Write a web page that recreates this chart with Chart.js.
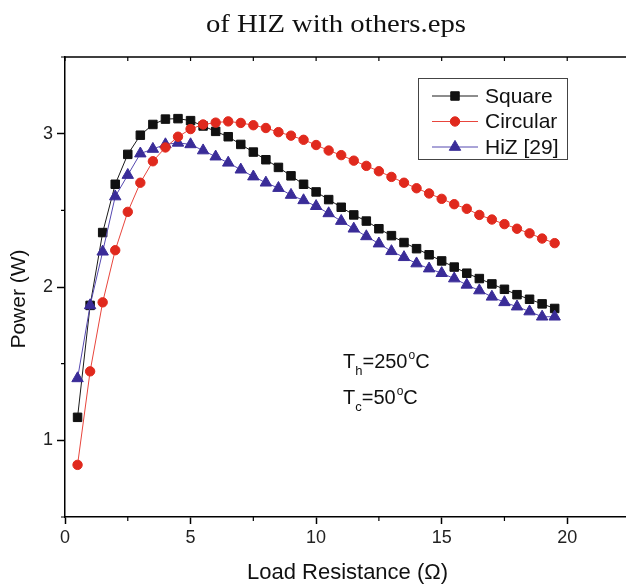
<!DOCTYPE html>
<html>
<head>
<meta charset="utf-8">
<script src="https://cdn.jsdelivr.net/npm/chart.js@4.4.1/dist/chart.umd.min.js"></script>
<style>
html,body{margin:0;padding:0;background:#fff;overflow:hidden;width:626px;height:586px;}
canvas{display:block;}
</style>
</head>
<body>
<canvas id="c" width="640" height="586"></canvas>
<script>
const chartTitle = 'of HIZ with others.eps';
const xTitle = 'Load Resistance (\u03A9)';
const yTitle = 'Power (W)';
const seriesNames = ['Square', 'Circular', 'HiZ [29]'];
const xValues = [0.5,1,1.5,2,2.5,3,3.5,4,4.5,5,5.5,6,6.5,7,7.5,8,8.5,9,9.5,10,10.5,11,11.5,12,12.5,13,13.5,14,14.5,15,15.5,16,16.5,17,17.5,18,18.5,19,19.5];
const squareValues = [1.15,1.88,2.355,2.67,2.865,2.99,3.06,3.095,3.098,3.085,3.05,3.015,2.98,2.93,2.88,2.83,2.78,2.725,2.67,2.62,2.57,2.52,2.47,2.43,2.38,2.335,2.29,2.25,2.21,2.17,2.13,2.09,2.055,2.02,1.985,1.95,1.92,1.89,1.86];
const circularValues = [0.84,1.45,1.90,2.24,2.49,2.68,2.82,2.91,2.98,3.03,3.06,3.072,3.08,3.07,3.055,3.037,3.01,2.987,2.96,2.926,2.89,2.86,2.824,2.79,2.755,2.718,2.68,2.644,2.61,2.575,2.54,2.51,2.47,2.44,2.41,2.38,2.35,2.316,2.286];
const hizValues = [1.404,1.88,2.23,2.59,2.73,2.87,2.90,2.93,2.94,2.93,2.89,2.85,2.81,2.765,2.72,2.68,2.645,2.60,2.565,2.527,2.48,2.43,2.38,2.33,2.283,2.233,2.194,2.153,2.12,2.09,2.055,2.014,1.977,1.936,1.90,1.872,1.84,1.806,1.806];
const xMajorTicks = [0,5,10,15,20];
const xMinorTicks = [2.5,7.5,12.5,17.5,22.5];
const yMajorTicks = [1,2,3];
const yMinorTicks = [0.5,1.5,2.5,3.5];
const xRange = [0, 22.5];
const yRange = [0.5, 3.5];

function pts(ys){ return xValues.map((x,i)=>({x:x, y:ys[i]})); }

const SANS = '"Liberation Sans", Arial, sans-serif';

const datasets = [
  {label: seriesNames[0], data: pts(squareValues), borderColor:'#1a1a1a', backgroundColor:'#111111',
   pointBackgroundColor:'#111111', pointBorderColor:'#111111', pointStyle:'rect', pointRadius:6, order:2},
  {label: seriesNames[1], data: pts(circularValues), borderColor:'#e8453c', backgroundColor:'#e0291d',
   pointBackgroundColor:'#e0291d', pointBorderColor:'#e0291d', pointStyle:'circle', pointRadius:4.7, order:0},
  {label: seriesNames[2], data: pts(hizValues), borderColor:'#5548b0', backgroundColor:'#3a2c98',
   pointBackgroundColor:'#3a2c98', pointBorderColor:'#3a2c98', pointStyle:'triangle', pointRadius:6.6, order:1}
];
datasets.forEach(d=>{ d.borderWidth=1; d.pointBorderWidth=1; d.showLine=true; d.tension=0; d.pointHoverRadius=d.pointRadius; });

const decor = {
  id:'decor',
  afterDraw(chart){
    const ctx = chart.ctx, a = chart.chartArea;
    const xs = chart.scales.x, ys = chart.scales.y;
    ctx.save();
    // title (stretched to mimic the wider Computer Modern face)
    ctx.fillStyle = '#111';
    ctx.font = '25px "Liberation Serif", "DejaVu Serif", serif';
    ctx.textAlign = 'center'; ctx.textBaseline = 'alphabetic';
    const tw = ctx.measureText(chartTitle).width;
    ctx.save();
    ctx.translate(336, 32);
    ctx.scale(260 / tw, 1);
    ctx.fillText(chartTitle, 0, 0);
    ctx.restore();
    // y title
    ctx.save();
    ctx.translate(19, 299);
    ctx.rotate(-Math.PI/2);
    ctx.font = '21px ' + SANS;
    ctx.textBaseline = 'middle'; ctx.textAlign = 'center';
    ctx.fillText(yTitle, 0, 0);
    ctx.restore();
    // frame top and right
    ctx.strokeStyle = '#000'; ctx.lineWidth = 1.5;
    ctx.beginPath();
    ctx.moveTo(a.left, a.top); ctx.lineTo(a.right, a.top);
    ctx.moveTo(a.right, a.top); ctx.lineTo(a.right, a.bottom);
    ctx.stroke();
    // ticks
    ctx.lineWidth = 1.2;
    ctx.beginPath();
    xMinorTicks.forEach(v=>{ const p = xs.getPixelForValue(v); ctx.moveTo(p, a.bottom); ctx.lineTo(p, a.bottom+4); });
    xMajorTicks.concat(xMinorTicks).forEach(v=>{ const p = xs.getPixelForValue(v); ctx.moveTo(p, a.top); ctx.lineTo(p, a.top+4); });
    yMinorTicks.forEach(v=>{ const p = ys.getPixelForValue(v); ctx.moveTo(a.left, p); ctx.lineTo(a.left-4, p); });
    ctx.stroke();
    // legend
    const lx = 418, ly = 78, lw = 149, lh = 81;
    ctx.lineWidth = 1; ctx.strokeStyle = '#444';
    ctx.strokeRect(lx+0.5, ly+0.5, lw, lh);
    ctx.font = '21px ' + SANS;
    ctx.textAlign = 'left'; ctx.textBaseline = 'middle';
    datasets.forEach((d,i)=>{
      const y = 96 + i*25.5;
      ctx.strokeStyle = d.borderColor; ctx.lineWidth = 1;
      ctx.beginPath(); ctx.moveTo(432, y); ctx.lineTo(478, y); ctx.stroke();
      ctx.fillStyle = d.pointBackgroundColor; ctx.strokeStyle = d.pointBorderColor;
      Chart.helpers.drawPoint(ctx, {pointStyle:d.pointStyle, radius:d.pointRadius, borderWidth:1, rotation:0}, 455, y);
      ctx.fillStyle = '#111';
      ctx.fillText(d.label, 485, y+1);
    });
    // annotation
    function drawT(sub, val, x, base){
      ctx.textBaseline = 'alphabetic'; ctx.textAlign = 'left'; ctx.fillStyle = '#111';
      ctx.font = '20px ' + SANS;
      ctx.fillText('T', x, base); let cx = x + ctx.measureText('T').width;
      ctx.font = '13px ' + SANS;
      ctx.fillText(sub, cx, base+7); cx += ctx.measureText(sub).width;
      ctx.font = '20px ' + SANS;
      ctx.fillText('=' + val, cx, base); cx += ctx.measureText('=' + val).width;
      ctx.font = '12px ' + SANS;
      ctx.fillText('o', cx+1, base-9); cx += ctx.measureText('o').width + 1;
      ctx.font = '20px ' + SANS;
      ctx.fillText('C', cx, base);
    }
    drawT('h', '250', 343, 368);
    drawT('c', '50', 343, 404);
    ctx.restore();
  }
};

new Chart(document.getElementById('c'), {
  type:'scatter',
  data:{datasets:datasets},
  options:{
    responsive:false, animation:false, devicePixelRatio:1,
    layout:{padding:{left:0,right:10,top:57,bottom:0}},
    plugins:{legend:{display:false}, tooltip:{enabled:false}, title:{display:false}},
    scales:{
      x:{type:'linear', min:xRange[0], max:xRange[1],
         afterBuildTicks:(s)=>{ s.ticks = xMajorTicks.map(v=>({value:v})); },
         afterFit:(s)=>{ s.height = 69; },
         ticks:{color:'#222', font:{size:18, family:SANS}, padding:3, maxRotation:0, autoSkip:false},
         grid:{drawOnChartArea:false, drawTicks:true, tickLength:7, tickColor:'#000', tickWidth:1.5},
         border:{display:true, color:'#000', width:1.5},
         title:{display:true, text:xTitle, color:'#111', font:{size:22, family:SANS}, padding:{top:8,bottom:0}}
      },
      y:{type:'linear', min:yRange[0], max:yRange[1],
         afterBuildTicks:(s)=>{ s.ticks = yMajorTicks.map(v=>({value:v})); },
         afterFit:(s)=>{ s.width = 65; },
         ticks:{color:'#222', font:{size:18, family:SANS}, padding:4},
         grid:{drawOnChartArea:false, drawTicks:true, tickLength:8, tickColor:'#000', tickWidth:1.5},
         border:{display:true, color:'#000', width:1.5},
         title:{display:false, text:yTitle}
      }
    }
  },
  plugins:[decor]
});
</script>
</body>
</html>
